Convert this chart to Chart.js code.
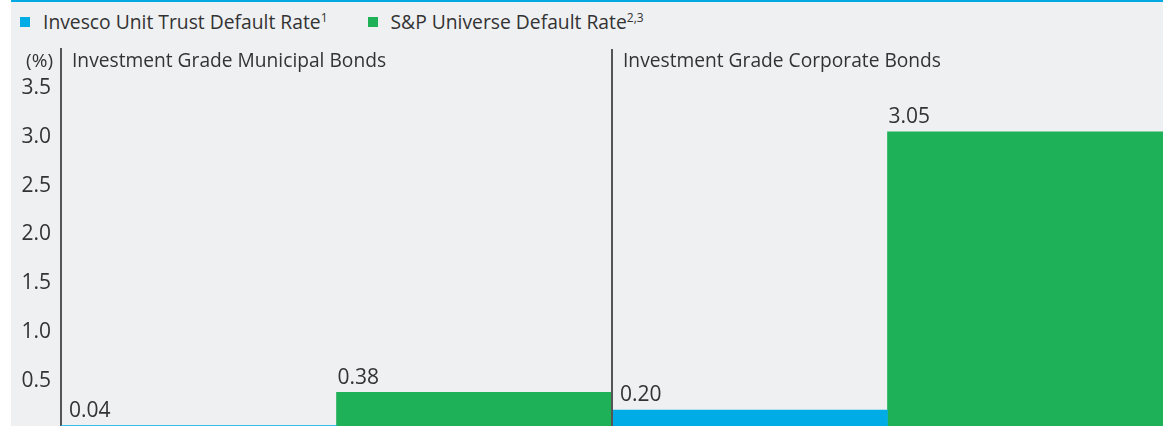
<!DOCTYPE html>
<html lang="en">
<head>
  <meta charset="UTF-8" />
  <title>Default Rates</title>
  <script src="https://cdn.jsdelivr.net/npm/chart.js"></script>
  <style>
    html, body {
      margin: 0;
      padding: 0;
      background: #fff;
      overflow: hidden;
      font-family: 'Open Sans', sans-serif;
    }
    .panel {
      position: absolute;
      left: 11px;
      top: 0;
      width: 1152px;
      height: 426px;
      background: #eff0f2;
      overflow: hidden;
    }
    .top-line {
      position: absolute;
      left: 0;
      top: 0;
      width: 100%;
      height: 2px;
      background: #00a9e3;
    }
    .legend {
      position: absolute;
      left: 9px;
      top: 8px;
      display: flex;
      align-items: center;
      color: #333;
      font-size: 19.3px;
      line-height: 28px;
    }
    .legend-item {
      display: flex;
      align-items: center;
      margin-right: 40px;
    }
    .legend-item .swatch {
      width: 10px;
      height: 10px;
      margin-right: 13px;
    }
    .legend-item sup {
      font-size: 12px;
      vertical-align: 7px;
      line-height: 0;
    }
    #defaultChart {
      position: absolute;
      left: 0;
      top: 0;
      width: 1152px;
      height: 432px;
    }
  </style>
</head>
<body>

<div class="panel">
  <div class="top-line"></div>
  <div class="legend" id="legend"></div>
  <canvas id="defaultChart" width="1152" height="432" role="img" aria-label="Default rate comparison"></canvas>
</div>

<script>
  const categories = ['Investment Grade Municipal Bonds', 'Investment Grade Corporate Bonds'];
  const seriesNames = ['Invesco Unit Trust Default Rate', 'S&P Universe Default Rate'];
  const seriesNotes = ['1', '2,3'];
  const invescoRate = [0.04, 0.20];
  const spRate = [0.38, 3.05];
  const yTicks = [0.5, 1.0, 1.5, 2.0, 2.5, 3.0, 3.5];
  const unitLabel = '(%)';

  const colors = ['#00ace6', '#1eb157'];
  const labelOffset = [8, 1];
  const textColor = '#333';

  // legend (html so the footnote marks can be superscript)
  const legend = document.getElementById('legend');
  seriesNames.forEach((name, i) => {
    const item = document.createElement('div');
    item.className = 'legend-item';
    const sw = document.createElement('span');
    sw.className = 'swatch';
    sw.style.background = colors[i];
    const txt = document.createElement('span');
    txt.textContent = name;
    const sup = document.createElement('sup');
    sup.textContent = seriesNotes[i];
    txt.appendChild(sup);
    item.appendChild(sw);
    item.appendChild(txt);
    legend.appendChild(item);
  });

  const overlay = {
    id: 'overlay',
    afterDatasetsDraw(chart) {
      const { ctx, chartArea, scales } = chart;
      const xs = scales.x;
      const ys = scales.y;
      const step = xs.getPixelForValue(1) - xs.getPixelForValue(0);
      ctx.save();

      // divider between the two groups
      const divX = (xs.getPixelForValue(0) + xs.getPixelForValue(1)) / 2;
      ctx.strokeStyle = '#555';
      ctx.lineWidth = 2;
      ctx.beginPath();
      ctx.moveTo(divX, chartArea.top);
      ctx.lineTo(divX, chartArea.bottom);
      ctx.stroke();

      ctx.fillStyle = textColor;
      ctx.textBaseline = 'alphabetic';

      // unit label left of the axis
      ctx.font = '19px "Open Sans"';
      ctx.textAlign = 'right';
      ctx.fillText(unitLabel, ys.right - 8, 67);

      // group titles
      ctx.font = '19.2px "Open Sans"';
      ctx.textAlign = 'left';
      categories.forEach((c, i) => {
        ctx.fillText(c, xs.getPixelForValue(i) - step / 2 + 11, 67);
      });

      // value labels
      ctx.font = '21px "Open Sans"';
      chart.data.datasets.forEach((ds, di) => {
        chart.getDatasetMeta(di).data.forEach((bar, i) => {
          const left = bar.x - bar.width / 2 + labelOffset[di];
          ctx.fillText(ds.data[i].toFixed(2), left, bar.y - 8.5);
        });
      });
      ctx.restore();
    }
  };

  new Chart(document.getElementById('defaultChart'), {
    type: 'bar',
    data: {
      labels: categories,
      datasets: [
        { label: seriesNames[0], data: invescoRate, backgroundColor: colors[0] },
        { label: seriesNames[1], data: spRate, backgroundColor: colors[1] }
      ]
    },
    options: {
      responsive: false,
      animation: false,
      layout: { padding: { top: 49, bottom: 2.5, left: 0, right: 0 } },
      datasets: {
        bar: { barPercentage: 1, categoryPercentage: 1, borderWidth: 0 }
      },
      plugins: {
        legend: { display: false },
        tooltip: { enabled: false }
      },
      scales: {
        x: { display: false },
        y: {
          min: 0,
          max: 3.9,
          afterBuildTicks(scale) {
            scale.ticks = yTicks.map(v => ({ value: v }));
          },
          afterFit(scale) {
            scale.width = 50;
            scale.paddingTop = 0;
            scale.paddingBottom = 0;
          },
          ticks: {
            color: textColor,
            padding: 10,
            font: { family: 'Open Sans', size: 21 },
            callback: v => Number(v).toFixed(1)
          },
          grid: { display: false, drawTicks: false },
          border: { display: true, color: '#555', width: 2 }
        }
      }
    },
    plugins: [overlay]
  });
</script>

</body>
</html>
